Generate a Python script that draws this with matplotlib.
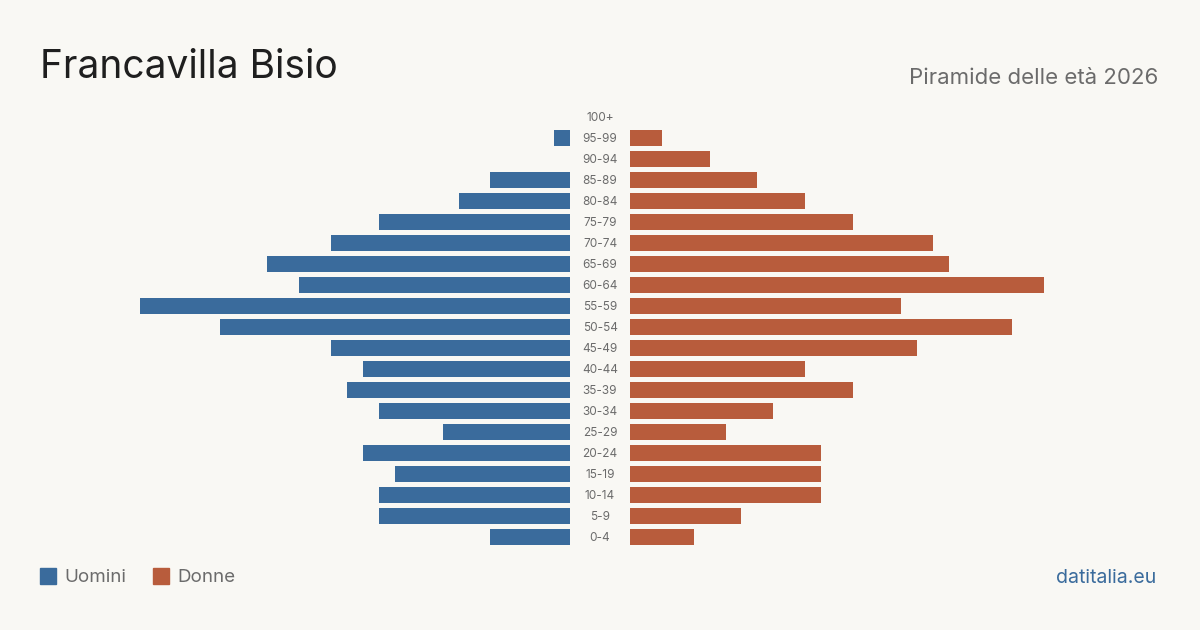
import matplotlib.pyplot as plt
from matplotlib.patches import Rectangle

plt.rcParams['font.family'] = ['Inter', 'DejaVu Sans']

# Dati
classi = ['0-4', '5-9', '10-14', '15-19', '20-24', '25-29', '30-34', '35-39',
          '40-44', '45-49', '50-54', '55-59', '60-64', '65-69', '70-74',
          '75-79', '80-84', '85-89', '90-94', '95-99', '100+']
uomini = [5, 12, 12, 11, 13, 8, 12, 14, 13, 15, 22, 27, 17, 19, 15, 12, 7, 5, 0, 1, 0]
donne = [4, 7, 12, 12, 12, 6, 9, 14, 11, 18, 24, 17, 26, 20, 19, 14, 11, 8, 5, 2, 0]

bg = '#f9f8f4'
blu = '#3a6b9c'
rosso = '#b85c3c'

W, H = 1200, 630
fig = plt.figure(figsize=(12, 6.3), dpi=100, facecolor=bg)

xmax = max(max(uomini), max(donne))
top, bottom = 106.5, 547.5
ax_l = fig.add_axes([140 / W, 1 - bottom / H, 430 / W, (bottom - top) / H])
ax_r = fig.add_axes([630 / W, 1 - bottom / H, 430 / W, (bottom - top) / H])

y = list(range(len(classi)))
ax_l.barh(y, uomini, height=0.8, color=blu)
ax_r.barh(y, donne, height=0.8, color=rosso)

ax_l.set_xlim(xmax, 0)
ax_r.set_xlim(0, xmax)
for ax in (ax_l, ax_r):
    ax.set_ylim(-0.5, len(classi) - 0.5)
    ax.axis('off')

# Etichette età al centro
for i, c in enumerate(classi):
    fig.text(600 / W, 1 - (538 - 21 * i) / H, c, ha='center', va='center',
             fontsize=8.5, color='#6b6b6b')

# Titoli
fig.text(40 / W, 1 - 68 / H, 'Francavilla Bisio', fontsize=28, color='#1f1f1f',
         ha='left', va='center')
fig.text(1158 / W, 1 - 78 / H, 'Piramide delle età 2026', fontsize=16,
         color='#6b6b6b', ha='right', va='center')

# Legenda
fig.add_artist(Rectangle((40 / W, 1 - 584 / H), 16 / W, 16 / H, color=blu,
                         transform=fig.transFigure))
fig.text(64 / W, 1 - 578 / H, 'Uomini', fontsize=13.5, color='#6b6b6b',
         ha='left', va='center')
fig.add_artist(Rectangle((153 / W, 1 - 584 / H), 16 / W, 16 / H, color=rosso,
                         transform=fig.transFigure))
fig.text(177 / W, 1 - 578 / H, 'Donne', fontsize=13.5, color='#6b6b6b',
         ha='left', va='center')

fig.text(1156 / W, 1 - 578 / H, 'datitalia.eu', fontsize=14, color=blu,
         ha='right', va='center')

fig.savefig('out.png', dpi=100, facecolor=bg)
